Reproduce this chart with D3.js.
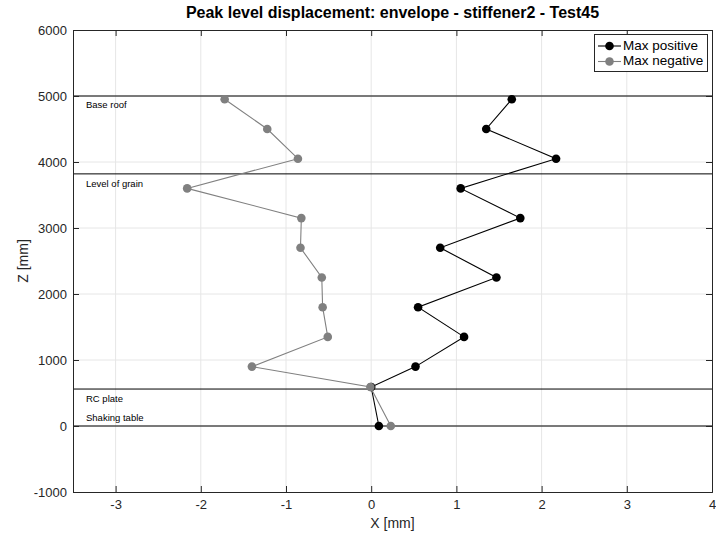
<!DOCTYPE html>
<html><head><meta charset="utf-8">
<script src="https://cdn.jsdelivr.net/npm/d3@7"></script>
<style>body{margin:0;background:#fff}svg{display:block}</style>
</head><body><svg id="c" width="716" height="539"></svg>
<script>
const titleText = "Peak level displacement: envelope - stiffener2 - Test45";
const xLabel = "X [mm]";
const yLabel = "Z [mm]";
const xTicks = [-3, -2, -1, 0, 1, 2, 3, 4];
const yTicks = [-1000, 0, 1000, 2000, 3000, 4000, 5000, 6000];
const zLevels = [4950, 4500, 4050, 3600, 3150, 2700, 2250, 1800, 1350, 900, 590, 0];
const maxPositive = [1.65, 1.35, 2.17, 1.05, 1.75, 0.81, 1.47, 0.55, 1.09, 0.52, 0.0, 0.09];
const maxNegative = [-1.72, -1.22, -0.86, -2.16, -0.82, -0.83, -0.58, -0.57, -0.51, -1.40, -0.01, 0.23];
const seriesNames = ["Max positive", "Max negative"];
const seriesColors = ["#000000", "#808080"];
const levelNames = ["Base roof", "Level of grain", "RC plate", "Shaking table"];
const levelZ = [5000, 3820, 560, 0];
const levelTextZ = [4850, 3660, 400, 120];

const svg = d3.select("#c");
const font = "'Liberation Sans', Arial, sans-serif";
const m = {l: 73, r: 712, t: 30, b: 492};
const x = d3.scaleLinear().domain([-3.5, 4]).range([m.l, m.r]);
const y = d3.scaleLinear().domain([-1000, 6000]).range([m.b, m.t]);
const fmt = d => String(d);

// grid
const g = svg.append("g");
g.selectAll(".gx").data(xTicks.filter(d => d > -3.5 && d < 4)).enter().append("line")
  .attr("x1", d => x(d)).attr("x2", d => x(d)).attr("y1", m.t).attr("y2", m.b)
  .attr("stroke", "#e6e6e6").attr("stroke-width", 1);
g.selectAll(".gy").data(yTicks.filter(d => d > -1000 && d < 6000)).enter().append("line")
  .attr("y1", d => y(d)).attr("y2", d => y(d)).attr("x1", m.l).attr("x2", m.r)
  .attr("stroke", "#e6e6e6").attr("stroke-width", 1);

// level lines
svg.append("g").selectAll("line").data(levelZ).enter().append("line")
  .attr("x1", m.l).attr("x2", m.r).attr("y1", d => y(d)).attr("y2", d => y(d))
  .attr("stroke", "#000").attr("stroke-width", 1);
svg.append("g").selectAll("text").data(levelNames).enter().append("text")
  .attr("x", x(-3.5) + 13).attr("y", (d, i) => y(levelTextZ[i]))
  .attr("dominant-baseline", "middle")
  .attr("font-family", font).attr("font-size", 9.5).attr("fill", "#000").text(d => d);

// axes
const axB = d3.axisBottom(x).tickValues(xTicks).tickSize(-6).tickPadding(8).tickFormat(fmt);
const axT = d3.axisTop(x).tickValues(xTicks).tickSize(-6).tickFormat("");
const axL = d3.axisLeft(y).tickValues(yTicks).tickSize(-6).tickPadding(6).tickFormat(fmt);
const axR = d3.axisRight(y).tickValues(yTicks).tickSize(-6).tickFormat("");
function style(sel) {
  sel.select(".domain").attr("stroke", "#262626");
  sel.selectAll(".tick line").attr("stroke", "#262626");
  sel.selectAll("text").attr("font-family", font).attr("font-size", 13).attr("fill", "#262626");
}
svg.append("g").attr("transform", `translate(0,${m.b})`).call(axB).call(style);
svg.append("g").attr("transform", `translate(0,${m.t})`).call(axT).call(style);
svg.append("g").attr("transform", `translate(${m.l},0)`).call(axL).call(style);
svg.append("g").attr("transform", `translate(${m.r},0)`).call(axR).call(style);
svg.selectAll(".domain").attr("stroke-width", 1);

// series
const data = [maxPositive, maxNegative];
const line = d3.line().x(d => x(d[0])).y(d => y(d[1]));
data.forEach((vals, si) => {
  const pts = vals.map((v, i) => [v, zLevels[i]]);
  svg.append("path").datum(pts).attr("d", line).attr("fill", "none")
    .attr("stroke", seriesColors[si]).attr("stroke-width", 1.1);
  svg.append("g").selectAll("circle").data(pts).enter().append("circle")
    .attr("cx", d => x(d[0])).attr("cy", d => y(d[1])).attr("r", 4.3)
    .attr("fill", seriesColors[si]);
});

// legend
const lg = svg.append("g");
lg.append("rect").attr("x", 594.5).attr("y", 34.5).attr("width", 113).attr("height", 37)
  .attr("fill", "#fff").attr("stroke", "#262626").attr("stroke-width", 1);
seriesNames.forEach((n, i) => {
  const yy = 46 + i * 15.5;
  lg.append("line").attr("x1", 598).attr("x2", 621).attr("y1", yy).attr("y2", yy)
    .attr("stroke", seriesColors[i]).attr("stroke-width", 1.1);
  lg.append("circle").attr("cx", 609.5).attr("cy", yy).attr("r", 4.3).attr("fill", seriesColors[i]);
  lg.append("text").attr("x", 623).attr("y", yy).attr("dominant-baseline", "middle")
    .attr("font-family", font).attr("font-size", 13.5).attr("fill", "#000").text(n);
});

// labels
svg.append("text").attr("x", (m.l + m.r) / 2).attr("y", 18).attr("text-anchor", "middle")
  .attr("font-family", font).attr("font-size", 16).attr("font-weight", "bold").attr("fill", "#000").text(titleText);
svg.append("text").attr("x", (m.l + m.r) / 2).attr("y", 528).attr("text-anchor", "middle")
  .attr("font-family", font).attr("font-size", 14).attr("fill", "#262626").text(xLabel);
svg.append("text").attr("transform", `translate(28,${(m.t + m.b) / 2}) rotate(-90)`).attr("text-anchor", "middle")
  .attr("font-family", font).attr("font-size", 14).attr("fill", "#262626").text(yLabel);
</script></body></html>
